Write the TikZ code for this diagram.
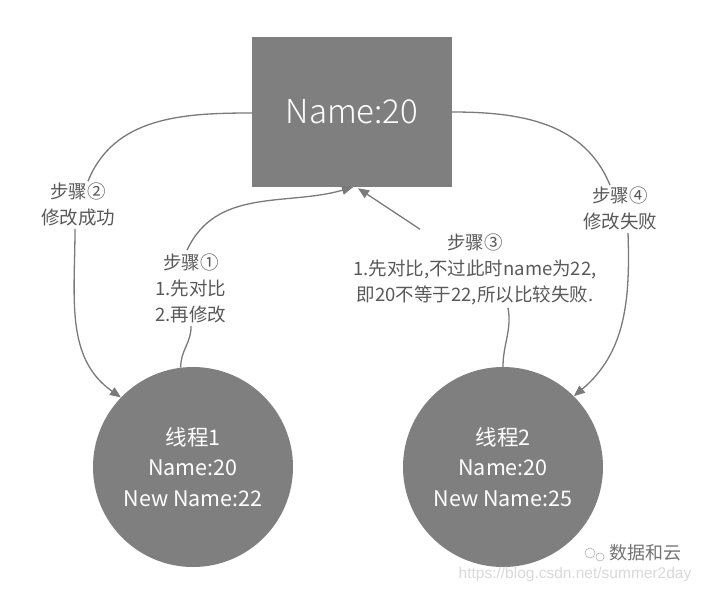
\documentclass[tikz,border=0pt]{standalone}
\usepackage{fontspec}
\setmainfont{Noto Sans CJK SC}
\newfontfamily\lightfont{Noto Sans CJK SC}[UprightFont={* Light}]
\newfontfamily\urlfont{Liberation Sans}
\usetikzlibrary{arrows.meta,calc}
\definecolor{boxgrey}{HTML}{7F7F7F}
\definecolor{txtgrey}{HTML}{595959}
\definecolor{linegrey}{HTML}{7A7A7A}
\tikzset{
  boxnode/.style={fill=boxgrey, draw=none, minimum width=200pt, minimum height=150pt, inner sep=0pt, text=white, font=\lightfont\fontsize{33}{36}\selectfont},
  thread/.style={circle, fill=boxgrey, draw=none, minimum size=200pt, inner sep=0pt, text=white, align=center, font=\fontsize{21.5}{30.5}\selectfont},
  steplabel/.style={align=center, text=txtgrey, inner sep=3pt, font=\fontsize{18.5}{26}\selectfont},
  conn/.style={draw=linegrey, line width=1.3pt},
  arr/.style={conn, -{Triangle[length=11pt,width=9pt]}},
  wm/.style={inner sep=0pt}
}
\begin{document}
\begin{tikzpicture}[x=1pt,y=-1pt]
\useasboundingbox (0,0) rectangle (703,589);
\fill[white] (0,0) rectangle (703,589);

\node[boxnode] (rect) at (352,112) {Name:20};
\node[thread] (c1) at (193,467) {线程1\\Name:20\\New Name:22};
\node[thread] (c2) at (503,467) {线程2\\Name:20\\New Name:25};

\node[steplabel] (l1) at (191,288) {步骤①\\1.先对比\\2.再修改};
\node[steplabel] (l2) at (78,204) {步骤②\\修改成功};
\node[steplabel] (l3) at (475,269) {步骤③\\1.先对比,不过此时name为22,\\即20不等于22,所以比较失败.};
\node[steplabel] (l4) at (620,208) {步骤④\\修改失败};

% step 1
\draw[conn] (c1.97) to[out=92,in=-88] (l1.south);
\draw[arr] ($(l1.north)+(-4,0)$) to[out=65,in=-164] ($(rect.south)+(1,0)$);
% step 2
\draw[conn] ($(rect.west)+(0,1)$) to[out=180,in=68] ($(l2.north)+(10,2)$);
\draw[arr] ($(l2.south)+(-3,0)$) to[out=-90,in=145] (c1.136);
% step 3
\draw[conn] (c2.90) to[out=90,in=-80] ($(l3.south)+(33,0)$);
\draw[arr] ($(l3.north)+(-55,-1)$) -- ($(rect.south)+(6,1)$);
% step 4
\draw[conn] (rect.east) to[out=0,in=112] ($(l4.north)+(-10,2)$);
\draw[arr] ($(l4.south)+(8,0)$) to[out=-88,in=40] (c2.45);

% watermark
\draw[black!30, line width=0.6pt] (590,553) circle (5pt) (600,557) circle (4pt);
\node[wm, text=black!55, font=\fontsize{18}{20}\selectfont] (wm1) at (645,553) {数据和云};
\node[wm, text=black!15, font=\urlfont\fontsize{15.5}{18}\selectfont] (wm2) at (575,574) {https://blog.csdn.net/summer2day};
\end{tikzpicture}
\end{document}
